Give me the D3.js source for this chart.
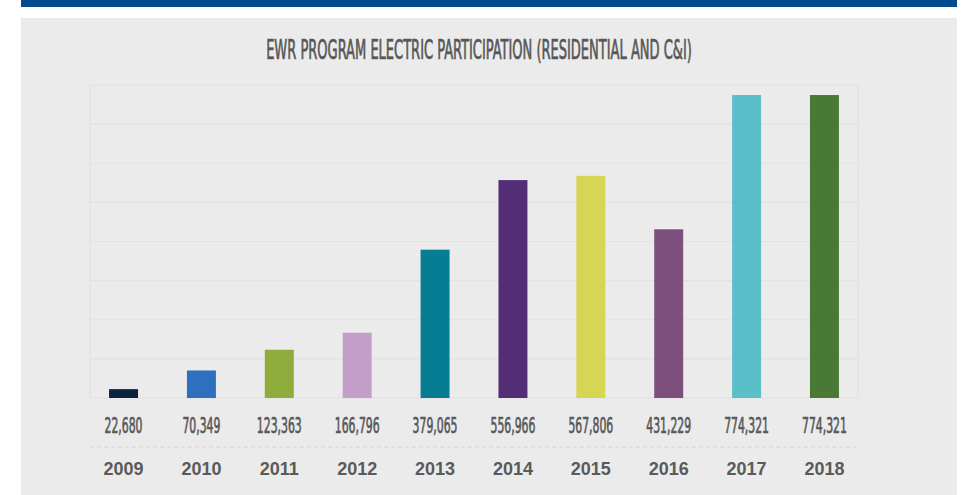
<!DOCTYPE html>
<html>
<head>
<meta charset="utf-8">
<script src="https://cdn.jsdelivr.net/npm/d3@7"></script>
<style>
  body { margin: 0; background: #fff; }
  svg { display: block; }
</style>
</head>
<body>
<div id="chart"></div>
<script>
// chart data
const years = ["2009", "2010", "2011", "2012", "2013", "2014", "2015", "2016", "2017", "2018"]
const participation = [22680, 70349, 123363, 166796, 379065, 556966, 567806, 431229, 774321, 774321]
const barColors = ["#0c2340", "#2e70bd", "#8fad3c", "#c39ec9", "#067d92", "#532e77", "#d6d654", "#7d4f7c", "#5bbfca", "#497934"]
const gridTicks = [0, 100000, 200000, 300000, 400000, 500000, 600000, 700000, 800000]
const title = "EWR PROGRAM ELECTRIC PARTICIPATION (RESIDENTIAL AND C&I)"

const W = 970, H = 495
const margin = { left: 90, right: 112, top: 85, bottom: 97 }
const innerW = W - margin.left - margin.right
const innerH = H - margin.top - margin.bottom

const svg = d3.select("#chart").append("svg")
    .attr("width", W)
    .attr("height", H)

// top stripe + panel
svg.append("rect").attr("x", 21).attr("y", 0).attr("width", 936).attr("height", 7).attr("fill", "#004b8d")
svg.append("rect").attr("x", 21).attr("y", 18).attr("width", 936).attr("height", H - 18).attr("fill", "#ebebeb")

const condensed = "'DejaVu Sans Condensed', 'DejaVu Sans', sans-serif"

// title, squeezed to look like a condensed display face
const t = svg.append("text")
    .attr("font-family", condensed)
    .attr("font-size", 26)
    .attr("fill", "#575757")
    .attr("stroke", "#575757")
    .attr("stroke-width", 0.7)
    .attr("text-anchor", "middle")
    .text(title)
const tW = t.node().getComputedTextLength()
t.attr("transform", `translate(479,59) scale(${426 / tW},1)`)

const g = svg.append("g").attr("transform", `translate(${margin.left},${margin.top})`)

const x = d3.scaleBand()
    .domain(years)
    .range([-5.4, innerW + 5.4])
    .paddingInner(0.628)
    .paddingOuter(0.314)
const y = d3.scaleLinear()
    .domain([0, 800000])
    .range([innerH, 0])

// grid
g.selectAll(".grid")
    .data(gridTicks)
    .join("line")
    .attr("x1", 0).attr("x2", innerW)
    .attr("y1", d => y(d)).attr("y2", d => y(d))
    .attr("stroke", "#e2e2e2")
    .attr("stroke-width", 1.2)
g.append("line").attr("x1", 0).attr("x2", 0).attr("y1", 0).attr("y2", innerH).attr("stroke", "#e2e2e2").attr("stroke-width", 1.2)
g.append("line").attr("x1", innerW).attr("x2", innerW).attr("y1", 0).attr("y2", innerH).attr("stroke", "#e2e2e2").attr("stroke-width", 1.2)

// bars
g.selectAll(".bar")
    .data(years)
    .join("rect")
    .attr("class", "bar")
    .attr("x", d => x(d))
    .attr("width", x.bandwidth())
    .attr("y", (d, i) => y(participation[i]))
    .attr("height", (d, i) => innerH - y(participation[i]))
    .attr("fill", (d, i) => barColors[i])

// value labels
const fmt = d3.format(",")
const probe = g.append("text").attr("font-family", condensed).attr("font-size", 22).text(fmt(participation[0]))
const sx = 38 / probe.node().getComputedTextLength()
probe.remove()

g.selectAll(".val")
    .data(years)
    .join("text")
    .attr("class", "val")
    .attr("font-family", condensed)
    .attr("font-size", 22)
    .attr("fill", "#575757")
    .attr("stroke", "#575757")
    .attr("stroke-width", 0.7)
    .attr("text-anchor", "middle")
    .attr("transform", d => `translate(${x(d) + x.bandwidth() / 2},${innerH + 35}) scale(${sx},1)`)
    .text((d, i) => fmt(participation[i]))

// dashed separator
g.append("line")
    .attr("x1", 0).attr("x2", innerW)
    .attr("y1", innerH + 49).attr("y2", innerH + 49)
    .attr("stroke", "#d6d6d6")
    .attr("stroke-dasharray", "4,3")

// year axis
const xAxis = g.append("g")
    .attr("transform", `translate(0,${innerH + 49})`)
    .call(d3.axisBottom(x).tickSize(0).tickPadding(0))
xAxis.select(".domain").remove()
xAxis.selectAll("text")
    .attr("dy", 27.5)
    .attr("font-family", "'Liberation Sans', Arial, sans-serif")
    .attr("font-weight", "bold")
    .attr("font-size", 18)
    .attr("fill", "#5a5a5a")
</script>
</body>
</html>
